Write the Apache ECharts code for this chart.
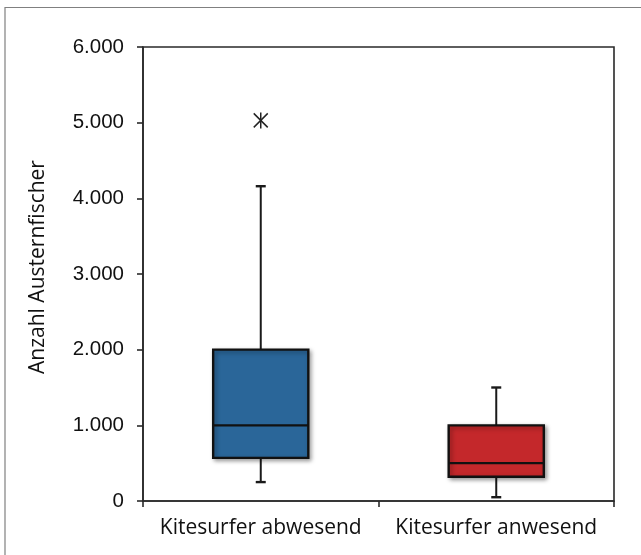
<!DOCTYPE html>
<html>
<head>
<meta charset="utf-8">
<script src="https://cdn.jsdelivr.net/npm/echarts@6/dist/echarts.min.js"></script>
<style>
  html, body { margin: 0; padding: 0; background: #ffffff; }
  #chart { width: 641px; height: 555px; }
</style>
</head>
<body>
<div id="chart"></div>
<script>
// ---- Data ----
const categories = ['Kitesurfer abwesend', 'Kitesurfer anwesend'];
const whiskerLow = [250, 50];
const q1 = [570, 320];
const median = [1000, 500];
const q3 = [2000, 1000];
const whiskerHigh = [4160, 1500];
const outliers = [[0, 5030]];
const boxColors = ['#2a6699', '#c4282b'];
const yTicks = [0, 1000, 2000, 3000, 4000, 5000, 6000];

function fmtThousands(v) {
  return String(v).replace(/\B(?=(\d{3})+(?!\d))/g, '.');
}

const boxData = categories.map((c, i) => [i, whiskerLow[i], q1[i], median[i], q3[i], whiskerHigh[i]]);

const chart = echarts.init(document.getElementById('chart'), null, { renderer: 'canvas' });

const lineStyle = { stroke: '#1a1a1a', lineWidth: 2 };

const option = {
  animation: false,
  backgroundColor: '#ffffff',
  graphic: [
    {
      type: 'polyline',
      shape: { points: [[5, 555], [5, 7.5], [641, 7.5]] },
      style: { stroke: '#808080', lineWidth: 1.2, fill: null },
      silent: true
    }
  ],
  grid: {
    left: 143, right: 27, top: 47, bottom: 54,
    show: true, borderColor: '#2a2a2a', borderWidth: 1.6,
    containLabel: false
  },
  xAxis: {
    type: 'category',
    data: categories,
    boundaryGap: true,
    axisLine: { lineStyle: { color: '#2a2a2a', width: 1.6 } },
    axisTick: { show: true, inside: false, length: 6, lineStyle: { color: '#2a2a2a', width: 1.6 } },
    axisLabel: {
      interval: 0,
      margin: 17,
      fontFamily: 'Open Sans',
      fontSize: 21,
      color: '#111111'
    },
    splitLine: { show: false }
  },
  yAxis: {
    type: 'value',
    min: yTicks[0],
    max: yTicks[yTicks.length - 1],
    interval: 1000,
    name: 'Anzahl Austernfischer',
    nameLocation: 'middle',
    nameRotate: 90,
    nameGap: 94,
    nameTextStyle: { fontFamily: 'Open Sans', fontSize: 21, color: '#111111', padding: [0, 0, 0, 14] },
    axisLine: { show: true, lineStyle: { color: '#2a2a2a', width: 1.6 } },
    axisTick: { show: true, inside: false, length: 6, lineStyle: { color: '#2a2a2a', width: 1.6 } },
    axisLabel: {
      margin: 19,
      fontFamily: 'Liberation Sans',
      fontSize: 20.5,
      color: '#111111',
      formatter: fmtThousands
    },
    splitLine: { show: false }
  },
  series: [
    {
      type: 'custom',
      name: 'box',
      data: boxData,
      encode: { x: 0, y: [1, 2, 3, 4, 5] },
      renderItem: function (params, api) {
        const i = api.value(0);
        const cx = api.coord([i, 0])[0];
        const bandW = api.size([1, 0])[0];
        const halfBox = bandW * 0.404 / 2;
        const halfCap = 5;
        const yLow = api.coord([i, api.value(1)])[1];
        const yQ1 = api.coord([i, api.value(2)])[1];
        const yMed = api.coord([i, api.value(3)])[1];
        const yQ3 = api.coord([i, api.value(4)])[1];
        const yHigh = api.coord([i, api.value(5)])[1];
        return {
          type: 'group',
          children: [
            { type: 'line', shape: { x1: cx, y1: yHigh, x2: cx, y2: yQ3 }, style: lineStyle },
            { type: 'line', shape: { x1: cx - halfCap, y1: yHigh, x2: cx + halfCap, y2: yHigh }, style: { stroke: '#1a1a1a', lineWidth: 2.4 } },
            { type: 'line', shape: { x1: cx, y1: yQ1, x2: cx, y2: yLow }, style: lineStyle },
            { type: 'line', shape: { x1: cx - halfCap, y1: yLow, x2: cx + halfCap, y2: yLow }, style: { stroke: '#1a1a1a', lineWidth: 2.4 } },
            {
              type: 'rect',
              shape: { x: cx - halfBox, y: yQ3, width: halfBox * 2, height: yQ1 - yQ3 },
              style: {
                fill: boxColors[i], stroke: '#111111', lineWidth: 2.4,
                shadowBlur: 4, shadowOffsetX: 2, shadowOffsetY: 2, shadowColor: 'rgba(0,0,0,0.35)'
              }
            },
            { type: 'line', shape: { x1: cx - halfBox, y1: yMed, x2: cx + halfBox, y2: yMed }, style: { stroke: '#111111', lineWidth: 2.2 } }
          ]
        };
      },
      z: 3
    },
    {
      type: 'custom',
      name: 'outlier',
      data: outliers,
      encode: { x: 0, y: 1 },
      renderItem: function (params, api) {
        const p = api.coord([api.value(0), api.value(1)]);
        const r = 8, d = 7;
        const st = { stroke: '#222222', lineWidth: 1.5 };
        return {
          type: 'group',
          children: [
            { type: 'line', shape: { x1: p[0], y1: p[1] - r, x2: p[0], y2: p[1] + r }, style: st },
            { type: 'line', shape: { x1: p[0] - d, y1: p[1] - d, x2: p[0] + d, y2: p[1] + d }, style: st },
            { type: 'line', shape: { x1: p[0] - d, y1: p[1] + d, x2: p[0] + d, y2: p[1] - d }, style: st }
          ]
        };
      },
      z: 4
    }
  ]
};

chart.setOption(option);
</script>
</body>
</html>
